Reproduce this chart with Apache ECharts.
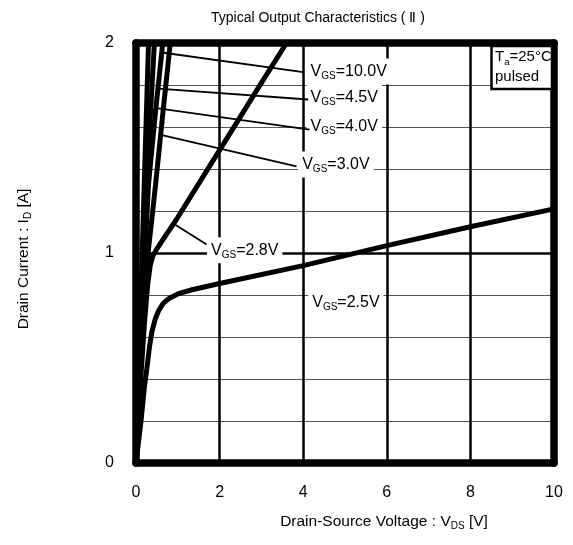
<!DOCTYPE html>
<html>
<head>
<meta charset="utf-8">
<script src="https://cdn.jsdelivr.net/npm/echarts@6.0.0/dist/echarts.min.js"></script>
<style>
  html, body { margin: 0; padding: 0; background: #fff; }
  #chart { width: 573px; height: 545px; }
</style>
</head>
<body>
<div id="chart"></div>
<script>
// Output characteristics: drain current I_D [A] versus drain-source voltage V_DS [V]
const xTicks = [0, 2, 4, 6, 8, 10];
const yTickLabels = [0, 1, 2];

// [V_DS, I_D] samples for each gate-source voltage
const vgs2_5 = [[0, 0], [0.12, 0.2], [0.2, 0.36], [0.26, 0.45], [0.32, 0.55], [0.38, 0.625], [0.46, 0.685],
  [0.54, 0.725], [0.65, 0.76], [0.8, 0.785], [1, 0.805], [1.34, 0.825], [2, 0.855], [4, 0.94],
  [6, 1.035], [8, 1.125], [10, 1.21]];
const vgs2_8 = [[0, 0], [0.1, 0.36], [0.2, 0.66], [0.28, 0.85], [0.34, 0.94], [0.4, 0.985], [0.5, 1.02],
  [0.7, 1.08], [1, 1.17], [2, 1.49], [3, 1.81], [3.6, 2.0]];
const vgs3_0 = [[0, 0], [0.1, 0.42], [0.2, 0.78], [0.3, 1.02], [0.4, 1.2], [0.47, 1.33], [0.65, 1.68], [0.82, 2.0]];
const vgs4_0 = [[0, 0], [0.1, 0.5], [0.2, 0.95], [0.3, 1.33], [0.47, 1.68], [0.64, 2.0]];
const vgs4_5 = [[0, 0], [0.1, 0.55], [0.2, 1.05], [0.3, 1.5], [0.44, 2.0]];
const vgs10 = [[0, 0], [0.1, 0.68], [0.2, 1.35], [0.3, 2.0]];

const curveNames = ['2.5V', '2.8V', '3.0V', '4.0V', '4.5V', '10.0V'];
const curveData = [vgs2_5, vgs2_8, vgs3_0, vgs4_0, vgs4_5, vgs10];

// Curve captions: text anchor (left edge, vertical middle) and leader line, in axis units
const captions = [
  { name: '10.0V', at: [4.08, 1.864], from: [0.57, 1.956], to: [4.0, 1.861] },
  { name: '4.5V', at: [4.08, 1.74], from: [0.53, 1.783], to: [4.12, 1.731] },
  { name: '4.0V', at: [4.08, 1.604], from: [0.49, 1.69], to: [4.15, 1.588] },
  { name: '3.0V', at: [3.88, 1.421], from: [0.57, 1.564], to: [3.84, 1.413] },
  { name: '2.8V', at: [1.7, 1.013], from: [0.93, 1.136], to: [1.69, 1.04] },
  { name: '2.5V', at: [4.12, 0.764], from: null, to: null }
];

const FONT = '"Liberation Sans", Arial, Helvetica, sans-serif';
function subRich(size, lh) {
  return {
    m: { fontFamily: FONT, fontSize: size, fill: '#000', lineHeight: lh },
    s: { fontFamily: FONT, fontSize: 10, fill: '#000', lineHeight: lh - 10, verticalAlign: 'bottom' }
  };
}

const chart = echarts.init(document.getElementById('chart'), null, { renderer: 'canvas' });

const series = [];

// heavier rule at I_D = 1 A
series.push({
  type: 'line', data: [], z: 1, silent: true,
  markLine: {
    silent: true, symbol: ['none', 'none'], animation: false, z: 2,
    label: { show: false },
    lineStyle: { color: '#000', width: 2.5, type: 'solid' },
    data: [{ yAxis: 1 }]
  }
});

curveData.forEach((d, i) => {
  series.push({
    name: 'VGS=' + curveNames[i],
    type: 'line', data: d, showSymbol: false, z: 3, smooth: false,
    lineStyle: { color: '#000', width: 5, cap: 'round', join: 'round' },
    animation: false
  });
});

captions.forEach(c => {
  if (c.from) {
    series.push({
      type: 'line', data: [c.from, c.to], showSymbol: false, z: 9, silent: true, animation: false,
      lineStyle: { color: '#000', width: 1.8 }
    });
  }
});

const baseGraphic = [
  {
    type: 'text', x: 384, y: 522, z: 10, silent: true,
    style: {
      text: '{m|Drain-Source Voltage : V}{s|DS}{m| [V]}', rich: subRich(15.5, 18),
      align: 'center', verticalAlign: 'middle'
    }
  },
  {
    type: 'text', x: 24, y: 259, rotation: Math.PI / 2, z: 10, silent: true,
    style: {
      text: '{m|Drain Current : I}{s|D}{m| [A]}', rich: subRich(15.5, 18),
      align: 'center', verticalAlign: 'middle'
    }
  },
  {
    type: 'rect', z: 10, silent: true,
    shape: { x: 491.5, y: 46, width: 60.5, height: 43 },
    style: { fill: '#fff', stroke: '#000', lineWidth: 2.5 }
  },
  {
    type: 'text', x: 495, y: 47, z: 11, silent: true,
    style: {
      text: '{m|T}{s|a}{m|=25°C}\n{m|pulsed}',
      rich: {
        m: { fontFamily: FONT, fontSize: 15, fill: '#000', lineHeight: 20 },
        s: { fontFamily: FONT, fontSize: 9.5, fill: '#000', lineHeight: 9, verticalAlign: 'bottom' }
      },
      align: 'left', verticalAlign: 'top'
    }
  }
];

const option = {
  backgroundColor: '#fff',
  animation: false,
  title: {
    text: 'Typical Output Characteristics ( \u2161 )',
    left: 206, top: 6,
    textStyle: { fontFamily: FONT, fontSize: 14, fontWeight: 'normal', color: '#000' }
  },
  grid: { left: 136, top: 43, width: 418, height: 420, containLabel: false },
  xAxis: [
    {
      type: 'value', position: 'bottom', min: xTicks[0], max: xTicks[xTicks.length - 1], interval: 2, z: 1,
      axisLine: { show: true, onZero: false, lineStyle: { color: '#000', width: 7.5, cap: 'round' } },
      axisTick: { show: false },
      axisLabel: { margin: 22, fontSize: 16, fontFamily: FONT, color: '#000' },
      splitLine: { show: true, lineStyle: { color: '#000', width: 2.5 } }
    },
    {
      type: 'value', position: 'top', min: 0, max: 10, interval: 2, z: 4,
      axisLine: { show: true, onZero: false, lineStyle: { color: '#000', width: 7.5, cap: 'round' } },
      axisTick: { show: false }, axisLabel: { show: false }, splitLine: { show: false }
    }
  ],
  yAxis: [
    {
      type: 'value', position: 'left', min: 0, max: 2, interval: 0.2, z: 0,
      axisLine: { show: true, onZero: false, lineStyle: { color: '#000', width: 7.5, cap: 'round' } },
      axisTick: { show: false },
      axisLabel: {
        margin: 22, fontSize: 16, fontFamily: FONT, color: '#000',
        formatter: v => (yTickLabels.some(t => Math.abs(t - v) < 1e-6) ? String(Math.round(v)) : '')
      },
      splitLine: { show: true, lineStyle: { color: '#555', width: 1 } }
    },
    {
      type: 'value', position: 'right', min: 0, max: 2, interval: 0.2, z: 4,
      axisLine: { show: true, onZero: false, lineStyle: { color: '#000', width: 7.5, cap: 'round' } },
      axisTick: { show: false }, axisLabel: { show: false }, splitLine: { show: false }
    }
  ],
  graphic: baseGraphic,
  series: series
};

chart.setOption(option);

// Caption boxes placed through the axis scales
const captionGraphic = captions.map(c => {
  const p = chart.convertToPixel({ gridIndex: 0 }, c.at);
  return {
    type: 'text', x: p[0], y: p[1], z: 8, silent: true,
    style: {
      text: '{m|V}{s|GS}{m|=' + c.name + '}', rich: subRich(16, 20),
      align: 'left', verticalAlign: 'middle',
      backgroundColor: '#ffffff', padding: [3, 4]
    }
  };
});
chart.setOption({ graphic: baseGraphic.concat(captionGraphic) });
</script>
</body>
</html>
